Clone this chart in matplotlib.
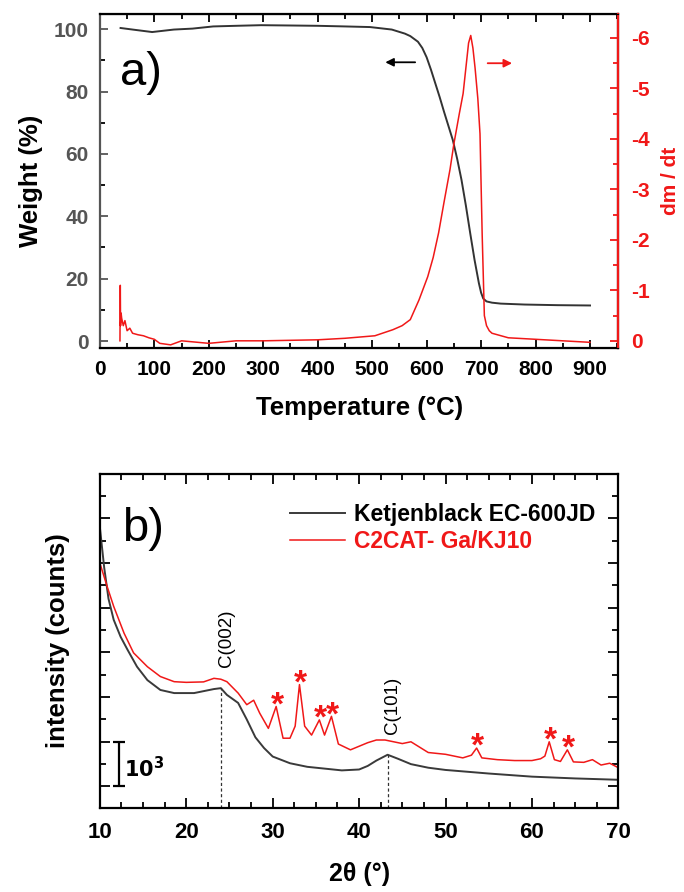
import numpy as np
import matplotlib
matplotlib.use("Agg")
import matplotlib.pyplot as plt
from matplotlib.ticker import MultipleLocator

plt.rcParams['font.family'] = ['Liberation Sans', 'DejaVu Sans']

# --- a) TGA data ---
temp_w = [38, 60, 96, 136, 170, 208, 250, 296, 350, 400, 450, 496, 536, 560, 570, 584,
          592, 600, 608, 616, 624, 632, 640, 648, 656, 664, 672, 680, 688, 696, 700,
          704, 710, 720, 736, 780, 840, 900]
weight = [100.4, 99.9, 99.1, 99.9, 100.2, 100.9, 101.1, 101.3, 101.2, 101.1, 100.9, 100.7,
          99.9, 98.6, 97.8, 96.0, 94.0, 91.0, 87.0, 82.6, 78.2, 73.5, 69.0, 64.5, 58.5,
          51.7, 43.5, 34.6, 26.0, 18.5, 15.5, 13.6, 12.7, 12.3, 12.0, 11.7, 11.5, 11.4]

temp_d = [36.9, 37.5, 38, 39, 40, 43, 46, 50, 55, 60, 70, 80, 90, 100, 110, 130, 150, 200,
          250, 300, 350, 400, 450, 505, 538, 555, 570, 586, 602, 612, 622, 632, 643, 650,
          660, 667, 672, 677, 681, 685, 689, 694, 698, 702, 706, 710, 715, 720, 750, 800,
          850, 900]
dmdt = [0.0, -1.1, -0.3, -0.55, -0.45, -0.3, -0.4, -0.2, -0.25, -0.15, -0.12, -0.1, -0.06,
        -0.03, 0.05, 0.08, 0.0, 0.05, 0.0, 0.0, -0.01, -0.02, -0.05, -0.1, -0.22, -0.3,
        -0.42, -0.81, -1.27, -1.65, -2.14, -2.75, -3.4, -3.9, -4.5, -4.9, -5.4, -5.9,
        -6.05, -5.8, -5.4, -4.8, -4.1, -2.1, -0.5, -0.3, -0.2, -0.15, -0.06, -0.03, 0.0,
        0.03]

# --- b) XRD data (counts) ---
tt_kb = [10, 10.5, 11, 11.6, 12.4, 13.2, 14.3, 15.5, 17, 18.6, 20.9, 23.2, 24, 24.7,
         26, 27, 28, 29, 30, 32, 34, 36, 38, 40, 41, 42, 43.3, 44.5, 46, 48, 50, 55,
         60, 65, 70]
int_kb = [6800, 5900, 5200, 4730, 4350, 4060, 3680, 3380, 3160, 3090, 3090, 3180, 3200,
          3050, 2870, 2500, 2100, 1860, 1670, 1520, 1440, 1400, 1360, 1380, 1460, 1580,
          1710, 1620, 1500, 1420, 1370, 1290, 1220, 1180, 1150]

tt_ga = [10, 10.85, 11.6, 12.8, 13.9, 15.5, 17, 18.6, 20, 22, 23.2, 24, 24.7, 26, 27,
         27.8, 28.5, 29.5, 30.4, 31.2, 32.0, 32.6, 33.1, 33.7, 34.5, 35.4, 36.0, 36.8,
         37.6, 39, 40, 41, 42, 43, 44, 45, 46, 48, 50, 52, 53.0, 53.6, 54.2, 56, 58, 60,
         61, 61.5, 62.0, 62.6, 63.3, 64.1, 64.8, 66, 67, 68, 69, 70]
int_ga = [6000, 5470, 5030, 4430, 3990, 3680, 3460, 3345, 3330, 3340, 3420, 3400, 3345,
          3090, 2830, 2930, 2640, 2300, 2790, 2080, 2080, 2350, 3280, 2350, 2150, 2490,
          2150, 2570, 1950, 1820, 1900, 1980, 2040, 2040, 2000, 1960, 2000, 1760, 1720,
          1640, 1700, 1860, 1640, 1600, 1580, 1580, 1620, 1680, 2000, 1600, 1560, 1820,
          1550, 1540, 1600, 1480, 1520, 1420]

star_pos = [30.4, 33.1, 35.4, 36.8, 53.6, 62.0, 64.1]
refl_pos = [24.0, 43.3]
refl_lbl = ['C(002)', 'C(101)']

RED = '#f01818'
GREY = '#555555'

fig = plt.figure(figsize=(6.84, 8.92), dpi=100)

# ---------------- panel a ----------------
ax = fig.add_axes([0.146, 0.610, 0.758, 0.374])
ax.plot(temp_w, weight, color='#333333', lw=1.4)
ax.set_xlim(0, 952)
ax.set_ylim(-2.2, 104.8)
ax.xaxis.set_major_locator(MultipleLocator(100))
ax.xaxis.set_minor_locator(MultipleLocator(50))
ax.yaxis.set_major_locator(MultipleLocator(20))
ax.yaxis.set_minor_locator(MultipleLocator(10))
ax.tick_params(which='both', direction='in', top=True, width=1.3)
ax.tick_params(which='major', length=6)
ax.tick_params(which='minor', length=3.5)
ax.tick_params(axis='x', labelsize=15, pad=9)
ax.tick_params(axis='y', labelsize=15, colors=GREY, pad=8)
for lbl in ax.get_xticklabels() + ax.get_yticklabels():
    lbl.set_fontweight('bold')
for s in ax.spines.values():
    s.set_linewidth(1.6)
ax.spines['left'].set_color(GREY)
ax.set_xlabel('Temperature (°C)', fontsize=18.5, fontweight='bold', labelpad=12)
ax.set_ylabel('Weight (%)', fontsize=18.5, fontweight='bold', labelpad=8)
ax.text(76, 86, 'a)', fontsize=34, ha='center', va='center')
ax.annotate('', xy=(519, 89.4), xytext=(584, 89.4),
            arrowprops=dict(arrowstyle='-|>', color='black', lw=1.3, mutation_scale=12))

ax2 = ax.twinx()
ax2.plot(temp_d, dmdt, color=RED, lw=1.1)
ax2.set_ylim(0.14, -6.47)
ax2.yaxis.set_major_locator(MultipleLocator(1))
ax2.yaxis.set_minor_locator(MultipleLocator(0.5))
ax2.tick_params(which='both', direction='in', colors=RED, width=1.3, labelsize=15, pad=9)
ax2.tick_params(which='major', length=6)
ax2.tick_params(which='minor', length=3.5)
ax2.set_yticks(range(-6, 1))
ax2.set_yticklabels([str(v) for v in range(-6, 1)])
for lbl in ax2.get_yticklabels():
    lbl.set_fontweight('bold')
ax2.set_ylim(0.14, -6.47)
ax2.spines['right'].set_color(RED)
ax2.spines['right'].set_linewidth(1.6)
ax2.spines['left'].set_visible(False)
ax2.set_ylabel('dm / dt', fontsize=15, fontweight='bold', color=RED, labelpad=8)
ax2.annotate('', xy=(762, -5.5), xytext=(707, -5.5),
             arrowprops=dict(arrowstyle='-|>', color=RED, lw=1.3, mutation_scale=12))

# ---------------- panel b ----------------
bx = fig.add_axes([0.146, 0.094, 0.758, 0.375])
bx.plot(tt_kb, int_kb, color='#3a3a3a', lw=1.4, label='Ketjenblack EC-600JD')
bx.plot(tt_ga, int_ga, color=RED, lw=1.1, label='C2CAT- Ga/KJ10')
bx.set_xlim(10, 70)
bx.set_ylim(515, 8000)
bx.xaxis.set_major_locator(MultipleLocator(10))
bx.xaxis.set_minor_locator(MultipleLocator(2.5))
bx.yaxis.set_major_locator(MultipleLocator(1000))
bx.yaxis.set_minor_locator(MultipleLocator(500))
bx.tick_params(which='both', direction='in', top=True, right=True, width=1.3)
bx.tick_params(which='major', length=7)
bx.tick_params(which='minor', length=4)
bx.tick_params(axis='x', labelsize=16, pad=10)
bx.set_yticklabels([])
for lbl in bx.get_xticklabels():
    lbl.set_fontweight('bold')
for s in bx.spines.values():
    s.set_linewidth(1.6)
bx.set_xlabel('2θ (°)', fontsize=18, fontweight='bold', labelpad=14)
bx.set_ylabel('intensity (counts)', fontsize=18.5, fontweight='bold', labelpad=18)

for p, lab in zip(refl_pos, refl_lbl):
    top = np.interp(p, tt_kb, int_kb)
    bx.plot([p, p], [515, top], color='#333333', ls=(0, (2.5, 2)), lw=0.9)
    bx.text(p + 0.6, top + 470, lab, rotation=90, ha='center', va='bottom', fontsize=13.5)

for p in star_pos:
    h = np.interp(p, tt_ga, int_ga)
    bx.text(p + 0.15, h - 330, '*', color=RED, fontsize=24, fontweight='bold',
            ha='center', va='bottom')

bx.text(15.04, 6767, 'b)', fontsize=34, ha='center', va='center')
# scale bar of 10^3 counts
bx.errorbar([12.2], [1500], yerr=[500], color='black', capsize=4, lw=1.6, capthick=1.6)
bx.text(12.8, 1411, r'$\mathbf{10^3}$', fontsize=15, va='center')

leg = bx.legend(loc='upper right', frameon=False, fontsize=16.5, handlelength=2.4,
                handletextpad=0.4, bbox_to_anchor=(0.995, 0.975), labelspacing=0.2)
for t in leg.get_texts():
    t.set_fontweight('bold')
leg.get_texts()[1].set_color(RED)

fig.savefig('out.png', dpi=100)
